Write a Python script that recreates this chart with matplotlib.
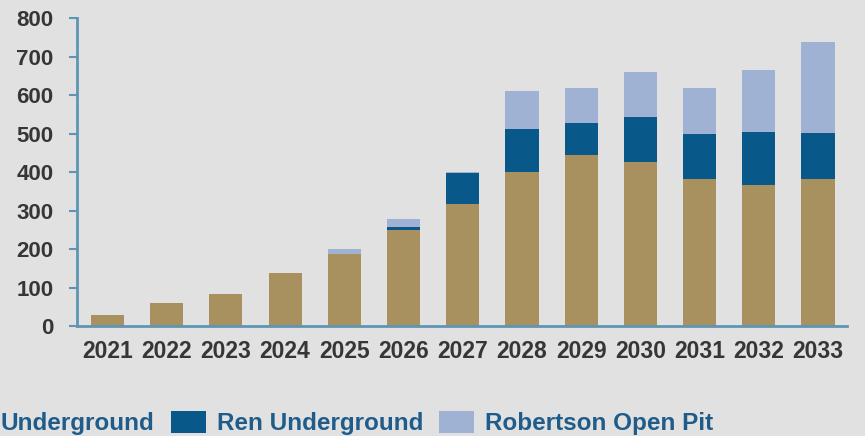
import matplotlib
matplotlib.use("Agg")
import matplotlib.pyplot as plt
import numpy as np
from matplotlib.patches import Patch
from matplotlib import font_manager

# values (koz per year)
years = ["2021", "2022", "2023", "2024", "2025", "2026", "2027",
         "2028", "2029", "2030", "2031", "2032", "2033"]
underground = [29, 60, 83, 137, 187, 250, 318, 400, 445, 426, 382, 367, 381]
ren_underground = [0, 0, 0, 0, 0, 7, 79, 111, 81, 117, 118, 138, 120]
robertson_open_pit = [0, 0, 0, 0, 12, 21, 3, 99, 91, 117, 118, 160, 237]
series_labels = ["Underground", "Ren Underground", "Robertson Open Pit"]
y_ticks = [0, 100, 200, 300, 400, 500, 600, 700, 800]

bg = "#e1e1e1"
gold = "#a8915f"
dark_blue = "#08588a"
light_blue = "#9fb2d3"
axis_col = "#5f95b4"
text_col = "#363636"
legend_col = "#1f5c8a"

plt.rcParams["font.family"] = ["Liberation Sans", "DejaVu Sans"]
plt.rcParams["font.weight"] = "bold"

# the year labels in the original are a little condensed
names = {f.name for f in font_manager.fontManager.ttflist}
narrow = "Liberation Sans Narrow" if "Liberation Sans Narrow" in names else "Liberation Sans"

fig = plt.figure(figsize=(8.65, 4.36), dpi=100, facecolor=bg)
ax = fig.add_axes([77 / 865, 1 - 326 / 436, (847 - 77) / 865, (326 - 18) / 436])
ax.set_facecolor(bg)

x = np.arange(len(years))
w = 0.56
bottom2 = np.array(underground)
bottom3 = bottom2 + np.array(ren_underground)
ax.bar(x, underground, w, color=gold, zorder=2)
ax.bar(x, ren_underground, w, bottom=bottom2, color=dark_blue, zorder=2)
ax.bar(x, robertson_open_pit, w, bottom=bottom3, color=light_blue, zorder=2)

ax.set_xlim(-0.515, 12.49)
ax.set_ylim(0, 800)
ax.set_yticks(y_ticks)
ax.set_xticks(x)
ax.set_xticklabels(years)

for s in ["top", "right"]:
    ax.spines[s].set_visible(False)
for s in ["left", "bottom"]:
    ax.spines[s].set_color(axis_col)
    ax.spines[s].set_linewidth(2)
    ax.spines[s].set_zorder(3)

ax.tick_params(axis="y", length=6, width=1.5, color=axis_col, pad=11,
               labelsize=16, labelcolor=text_col)
ax.tick_params(axis="x", length=0, pad=10, labelsize=16.5, labelcolor=text_col)
for lab in ax.get_yticklabels():
    lab.set_fontweight("bold")
for lab in ax.get_xticklabels():
    lab.set_fontweight("bold")
    lab.set_family([narrow, "DejaVu Sans"])

handles = [Patch(facecolor=c, edgecolor="none") for c in (gold, dark_blue, light_blue)]
leg = fig.legend(handles, series_labels, loc="center left",
                 bbox_to_anchor=(-45 / 865, 1 - 423 / 436), ncol=3, frameon=False,
                 borderpad=0, borderaxespad=0, handlelength=1.44, handleheight=1.05,
                 handletextpad=0.45, columnspacing=0.66,
                 prop={"size": 17.5, "weight": "bold"})
for t in leg.get_texts():
    t.set_color(legend_col)

fig.savefig("out.png", dpi=100, facecolor=bg)
